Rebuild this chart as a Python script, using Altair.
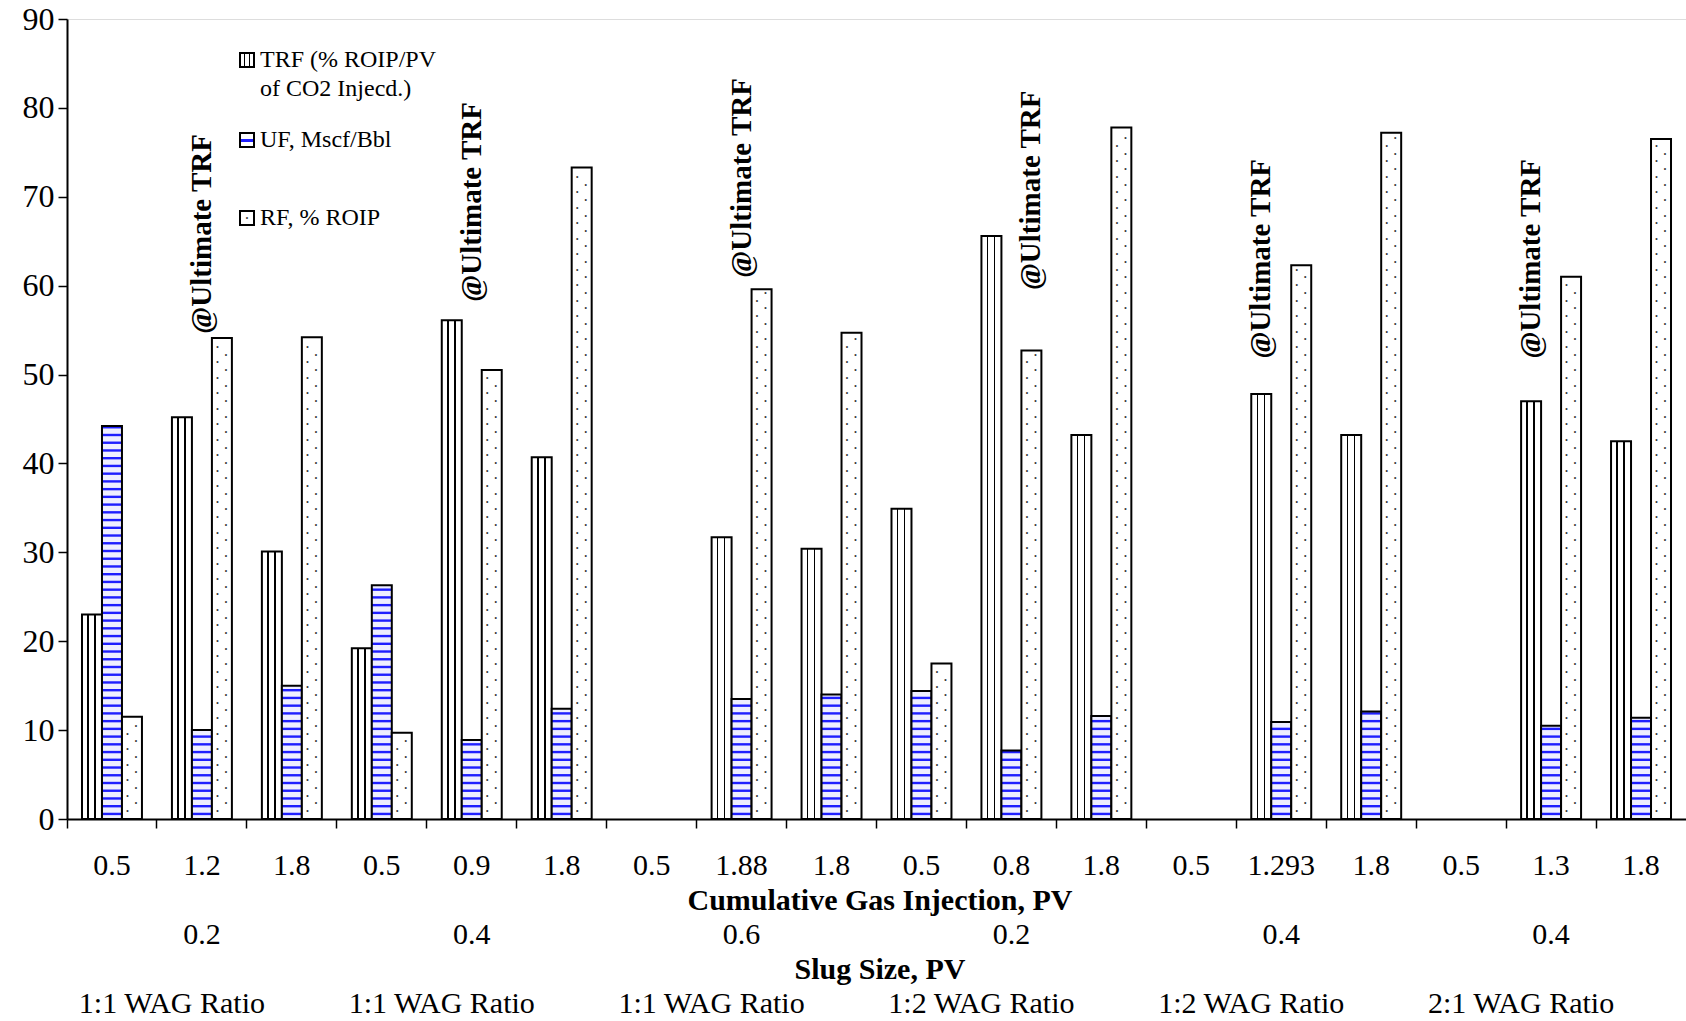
import altair as alt
import pandas as pd
import numpy as np

# ---------------- data ----------------
GAS = ["0.5", "1.2", "1.8", "0.5", "0.9", "1.8", "0.5", "1.88", "1.8",
       "0.5", "0.8", "1.8", "0.5", "1.293", "1.8", "0.5", "1.3", "1.8"]
TRF = [23.0, 45.2, 30.1, 19.2, 56.1, 40.7, None, 31.7, 30.4,
       34.9, 65.6, 43.2, None, 47.8, 43.2, None, 47.0, 42.5]
UF = [44.2, 10.0, 15.0, 26.3, 8.9, 12.4, None, 13.5, 14.0,
      14.4, 7.7, 11.6, None, 10.9, 12.1, None, 10.5, 11.4]
RF = [11.5, 54.1, 54.2, 9.7, 50.5, 73.3, None, 59.6, 54.7,
      17.5, 52.7, 77.8, None, 62.3, 77.2, None, 61.0, 76.5]
SLUG = ["0.2", "0.4", "0.6", "0.2", "0.4", "0.4"]
WAG = ["1:1 WAG Ratio", "1:1 WAG Ratio", "1:1 WAG Ratio",
       "1:2 WAG Ratio", "1:2 WAG Ratio", "2:1 WAG Ratio"]
ANNOT_CAT = [1, 4, 7, 10, 13, 16]
ANNOT_SLOT = ["UF", "UF", "UF", "RF", "TRF", "TRF"]
ANNOT_Y = [54.6, 58.2, 60.9, 59.5, 51.8, 51.8]
SERIES = ["TRF", "UF", "RF"]

# ---------------- style constants ----------------
FONT = "Liberation Serif"
STRIPE_STEP = 0.87      # y-units between blue stripes (pattern)
STRIPE_H = 0.27
DOT_STEP = 1.74         # y-units between dots in a column (pattern)
BLUE = "#1f1fff"

N = len(GAS)
rows = []
for i in range(N):
    for s, arr in zip(SERIES, [TRF, UF, RF]):
        if arr[i] is not None:
            rows.append({"cat": i, "series": s, "value": arr[i]})
bars = pd.DataFrame(rows)

stripe_rows = []
for i, v in enumerate(UF):
    if v is None:
        continue
    for y in np.arange(STRIPE_STEP / 2, v - 0.2, STRIPE_STEP):
        stripe_rows.append({"cat": i, "series": "UF", "y0": float(y), "y1": float(y + STRIPE_H)})
stripes = pd.DataFrame(stripe_rows)

dotL, dotR = [], []
for i, v in enumerate(RF):
    if v is None:
        continue
    for y in np.arange(0.9, v - 0.4, DOT_STEP):
        dotL.append({"cat": i, "series": "RF", "y": float(y)})
    for y in np.arange(0.9 + DOT_STEP / 2, v - 0.4, DOT_STEP):
        dotR.append({"cat": i, "series": "RF", "y": float(y)})
dotsL = pd.DataFrame(dotL)
dotsR = pd.DataFrame(dotR)

annot = pd.DataFrame({"cat": ANNOT_CAT, "series": ANNOT_SLOT, "y": ANNOT_Y,
                      "text": ["@Ultimate TRF"] * len(ANNOT_CAT)})
groups = pd.DataFrame({"cat": [3 * g + 1 for g in range(len(SLUG))], "slug": SLUG, "wag": WAG})

# ---------------- scales / axes ----------------
label_expr = "[" + ",".join("'" + g + "'" for g in GAS) + "][datum.value]"
xscale = alt.Scale(domain=list(range(N)), paddingInner=0, paddingOuter=0)
xaxis = alt.Axis(title=None, labelExpr=label_expr, labelFont=FONT, labelFontSize=30,
                 labelColor="black", labelAngle=0, bandPosition=0,
                 labelBaseline="middle", labelPadding=37, labelOverlap=False,
                 tickSize=9, tickColor="black", tickWidth=1.5,
                 domainColor="black", domainWidth=2, grid=False)
yscale = alt.Scale(domain=[0, 90], nice=False, zero=True)
yaxis = alt.Axis(title=None, values=list(range(0, 91, 10)), labelFont=FONT, labelFontSize=32,
                 labelColor="black", labelPadding=4, tickSize=9, tickColor="black",
                 tickWidth=1.5, domainColor="black", domainWidth=2, grid=False)
offscale = alt.Scale(domain=SERIES, paddingInner=0, paddingOuter=0.75)

X = alt.X("cat:O", scale=xscale, axis=xaxis)
XO = alt.XOffset("series:N", scale=offscale)


def Y(field):
    return alt.Y(field, scale=yscale, axis=yaxis)


trf_grad = {"gradient": "linear", "x1": 0, "x2": 1, "y1": 0, "y2": 0,
            "stops": [{"offset": 0, "color": "white"}, {"offset": 0.27, "color": "white"},
                      {"offset": 0.27, "color": "black"}, {"offset": 0.34, "color": "black"},
                      {"offset": 0.34, "color": "white"}, {"offset": 0.62, "color": "white"},
                      {"offset": 0.62, "color": "black"}, {"offset": 0.69, "color": "black"},
                      {"offset": 0.69, "color": "white"}, {"offset": 1, "color": "white"}]}
uf_leg_grad = {"gradient": "linear", "x1": 0, "x2": 0, "y1": 0, "y2": 1,
               "stops": [{"offset": 0, "color": "white"}, {"offset": 0.4, "color": "white"},
                         {"offset": 0.4, "color": BLUE}, {"offset": 0.62, "color": BLUE},
                         {"offset": 0.62, "color": "white"}, {"offset": 1, "color": "white"}]}

base = alt.Chart(bars)
trf_layer = base.transform_filter("datum.series == 'TRF'").mark_bar(
    fill=trf_grad, stroke="black", strokeWidth=2).encode(x=X, xOffset=XO, y=Y("value:Q"))
uf_base = base.transform_filter("datum.series == 'UF'").mark_bar(
    fill="#eeeeff", strokeWidth=0).encode(x=X, xOffset=XO, y=Y("value:Q"))
uf_stripes = alt.Chart(stripes).mark_bar(fill=BLUE, strokeWidth=0).encode(
    x=X, xOffset=XO, y=Y("y0:Q"), y2="y1:Q")
uf_outline = base.transform_filter("datum.series == 'UF'").mark_bar(
    fill="white", fillOpacity=0, stroke="black", strokeWidth=2).encode(x=X, xOffset=XO, y=Y("value:Q"))
rf_layer = base.transform_filter("datum.series == 'RF'").mark_bar(
    fill="white", stroke="black", strokeWidth=2).encode(x=X, xOffset=XO, y=Y("value:Q"))
rf_dotsL = alt.Chart(dotsL).mark_text(text="•", fontSize=7, color="#333333", dx=-4.5,
                                      baseline="middle", align="center").encode(
    x=X, xOffset=XO, y=Y("y:Q"))
rf_dotsR = alt.Chart(dotsR).mark_text(text="•", fontSize=7, color="#333333", dx=4,
                                      baseline="middle", align="center").encode(
    x=X, xOffset=XO, y=Y("y:Q"))

annot_layer = alt.Chart(annot).mark_text(
    angle=270, align="left", baseline="middle", font=FONT, fontSize=29,
    fontWeight="bold", color="black").encode(x=X, xOffset=XO, y=Y("y:Q"), text="text:N")

slug_layer = alt.Chart(groups).mark_text(
    baseline="middle", font=FONT, fontSize=30, color="black").encode(
    x=X, y=alt.value(916), text="slug:N")
wag_layer = alt.Chart(groups).mark_text(
    baseline="middle", font=FONT, fontSize=30, color="black", dx=-30).encode(
    x=X, y=alt.value(985), text="wag:N")

one = alt.Data(values=[{}])


def txt(s, x, y, size=30, bold=False, align="center"):
    return alt.Chart(one).mark_text(
        text=s, font=FONT, fontSize=size, fontWeight="bold" if bold else "normal",
        color="black", align=align, baseline="middle").encode(x=alt.value(x), y=alt.value(y))


title1 = txt("Cumulative Gas Injection, PV", 813, 882, bold=True)
title2 = txt("Slug Size, PV", 813, 951, bold=True)


# legend (inside plot, top-left)
def swatch(y, fill):
    return alt.Chart(one).mark_rect(fill=fill, stroke="black", strokeWidth=2).encode(
        x=alt.value(173), x2=alt.value(187), y=alt.value(y - 7), y2=alt.value(y + 7))


leg = [
    swatch(41, trf_grad), txt("TRF (% ROIP/PV", 193, 41, size=24, align="left"),
    txt("of CO2 Injecd.)", 193, 70, size=24, align="left"),
    swatch(121, uf_leg_grad), txt("UF, Mscf/Bbl", 193, 121, size=24, align="left"),
    swatch(199, "white"), txt("RF, % ROIP", 193, 199, size=24, align="left"),
    alt.Chart(one).mark_text(text="•", fontSize=7, color="#333333",
                             baseline="middle", align="center").encode(
        x=alt.value(180), y=alt.value(199)),
]

chart = alt.layer(
    trf_layer, uf_base, uf_stripes, uf_outline, rf_layer, rf_dotsL, rf_dotsR,
    annot_layer, slug_layer, wag_layer, title1, title2, *leg
).properties(
    width=1619, height=800,
    padding={"left": 67, "top": 19, "right": 0, "bottom": 202},
    autosize=alt.AutoSizeParams(type="none"),
).configure_view(stroke="black", strokeWidth=2).configure(background="white")

chart.save("out.html", embed_options={"renderer": "svg", "actions": False})
